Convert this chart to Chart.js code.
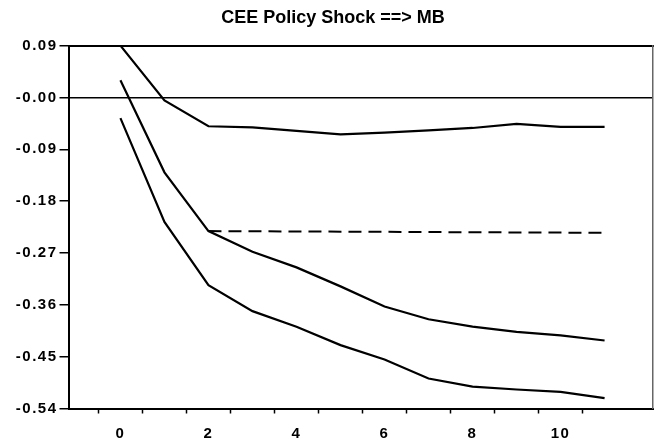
<!DOCTYPE html>
<html>
<head>
<meta charset="utf-8">
<script src="https://cdn.jsdelivr.net/npm/chart.js@4.4.1/dist/chart.umd.min.js"></script>
<style>
html,body{margin:0;padding:0;background:#fff;}
#wrap{width:666px;height:444px;}
</style>
</head>
<body>
<div id="wrap"><canvas id="c" width="666" height="444"></canvas></div>
<script>
// ---- data ----
const titleText = 'CEE Policy Shock ==> MB';
const steps = [0, 1, 2, 3, 4, 5, 6, 7, 8, 9, 10, 11];
const upperBand = [0.090, -0.005, -0.050, -0.052, -0.058, -0.064, -0.061, -0.057, -0.053, -0.046, -0.051, -0.051];
const response  = [0.030, -0.130, -0.232, -0.268, -0.295, -0.328, -0.363, -0.385, -0.398, -0.407, -0.413, -0.422];
const lowerBand = [-0.036, -0.216, -0.326, -0.371, -0.398, -0.430, -0.455, -0.488, -0.502, -0.507, -0.511, -0.522];
const ceeSteps = [2, 11];
const ceeResponse = [-0.232, -0.235];
const yTicks = [0.09, 0, -0.09, -0.18, -0.27, -0.36, -0.45, -0.54];
const yTickLabels = ['0.09', '-0.00', '-0.09', '-0.18', '-0.27', '-0.36', '-0.45', '-0.54'];
const xLabelSteps = [0, 2, 4, 6, 8, 10];
const xTickMarks = [-0.5, 0.5, 1.5, 2.5, 3.5, 4.5, 5.5, 6.5, 7.5, 8.5, 9.5, 10.5];

// ---- styling ----
const FONT = "'Liberation Sans', Arial, Helvetica, sans-serif";
const tickLetterSpacing = '1.5px';
const X_MIN = -1.18, X_MAX = 12.1;
const Y_MIN = -0.54, Y_MAX = 0.09;

const toXY = (xs, ys) => xs.map((x, i) => ({x: x, y: ys[i]}));
const lineStyle = {borderColor: '#000', borderWidth: 2.2, pointRadius: 0, tension: 0, fill: false};

const spacingPlugin = {
  id: 'tickSpacing',
  beforeDraw(chart) {
    ['x', 'y'].forEach(id => {
      const s = chart.scales[id];
      if (s && !s._spaced) {
        const orig = s.drawLabels.bind(s);
        s.drawLabels = function (ca) {
          const ctx = this.ctx;
          ctx.save();
          ctx.letterSpacing = tickLetterSpacing;
          orig(ca);
          ctx.restore();
        };
        s._spaced = true;
      }
    });
  }
};

new Chart(document.getElementById('c'), {
  type: 'line',
  data: {
    datasets: [
      Object.assign({label: 'upper', data: toXY(steps, upperBand)}, lineStyle),
      Object.assign({label: 'response', data: toXY(steps, response)}, lineStyle),
      Object.assign({label: 'lower', data: toXY(steps, lowerBand)}, lineStyle),
      Object.assign({label: 'cee', data: toXY(ceeSteps, ceeResponse)}, lineStyle, {borderWidth: 2, borderDash: [13, 7]})
    ]
  },
  plugins: [spacingPlugin],
  options: {
    responsive: false,
    animation: false,
    devicePixelRatio: 1,
    layout: {padding: {left: 0, right: 0, top: 0, bottom: 0}},
    plugins: {
      legend: {display: false},
      tooltip: {enabled: false},
      title: {
        display: true,
        text: titleText,
        color: '#000',
        font: {family: FONT, size: 18, weight: 'bold'},
        padding: {top: 7, bottom: 17}
      }
    },
    scales: {
      x: {
        type: 'linear',
        position: 'bottom',
        min: X_MIN, max: X_MAX,
        afterBuildTicks: (s) => {
          s.ticks = xTickMarks.concat(xLabelSteps).sort((a, b) => a - b).map(v => ({value: v}));
        },
        afterFit: (s) => { s.height = 35.5; },
        ticks: {
          autoSkip: false, maxRotation: 0, color: '#000', padding: 11,
          font: {family: FONT, size: 15, weight: 'bold'},
          callback: (v) => xLabelSteps.includes(v) ? String(v) : ''
        },
        grid: {
          drawOnChartArea: false, drawTicks: true, tickLength: 5, tickWidth: 1.5,
          tickColor: (ctx) => (ctx.tick && xTickMarks.includes(ctx.tick.value)) ? '#000' : 'rgba(0,0,0,0)'
        },
        border: {display: true, color: '#000', width: 2}
      },
      x2: {
        type: 'linear', position: 'top', min: X_MIN, max: X_MAX,
        afterFit: (s) => { s.height = 0; },
        ticks: {display: false},
        grid: {display: false},
        border: {display: true, color: '#000', width: 2}
      },
      y: {
        type: 'linear',
        position: 'left',
        min: Y_MIN, max: Y_MAX,
        afterBuildTicks: (s) => { s.ticks = yTicks.map(v => ({value: v})); },
        afterFit: (s) => { s.width = 68.5; },
        ticks: {
          color: '#000', padding: 2,
          font: {family: FONT, size: 15, weight: 'bold'},
          callback: (v) => {
            let best = 0;
            yTicks.forEach((t, i) => { if (Math.abs(t - v) < Math.abs(yTicks[best] - v)) best = i; });
            return yTickLabels[best];
          }
        },
        grid: {
          drawOnChartArea: true, drawTicks: true, tickLength: 9, tickWidth: 1.5, tickColor: '#000',
          lineWidth: 1.5,
          color: (ctx) => (ctx.tick && Math.abs(ctx.tick.value) < 1e-9) ? '#000' : 'rgba(0,0,0,0)'
        },
        border: {display: true, color: '#000', width: 2}
      },
      y2: {
        type: 'linear', position: 'right', min: Y_MIN, max: Y_MAX,
        afterFit: (s) => { s.width = 13; },
        ticks: {display: false},
        grid: {display: false},
        border: {display: true, color: '#666', width: 1.5, dash: [4, 3]}
      }
    }
  }
});
</script>
</body>
</html>
